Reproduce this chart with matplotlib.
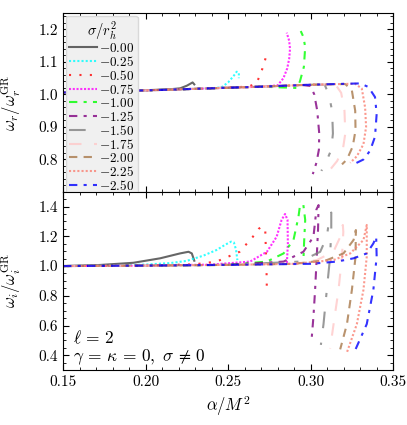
import numpy as np
import matplotlib
matplotlib.use("Agg")
import matplotlib.pyplot as plt
from matplotlib.ticker import MultipleLocator

plt.rcParams['font.family'] = 'serif'
plt.rcParams['font.serif'] = ['cmr10', 'DejaVu Serif']
plt.rcParams['mathtext.fontset'] = 'cm'
plt.rcParams['axes.formatter.use_mathtext'] = True
plt.rcParams['font.size'] = 11

sigmas = ['-0.00', '-0.25', '-0.50', '-0.75', '-1.00', '-1.25',
          '-1.50', '-1.75', '-2.00', '-2.25', '-2.50']

# top panel: omega_r / omega_r^GR
ar_000 = [0.15, 0.18, 0.20, 0.215, 0.221, 0.225, 0.2285, 0.2295]
wr_000 = [1.006, 1.010, 1.013, 1.016, 1.019, 1.027, 1.037, 1.031]
ar_025 = [0.15, 0.18, 0.21, 0.24, 0.246, 0.25, 0.2535, 0.2552, 0.2565, 0.2565]
wr_025 = [1.006, 1.010, 1.014, 1.019, 1.022, 1.037, 1.058, 1.070, 1.066, 1.05]
ar_050 = [0.15, 0.18, 0.21, 0.24, 0.262, 0.267, 0.2694, 0.2715, 0.2735]
wr_050 = [1.006, 1.010, 1.014, 1.019, 1.024, 1.033, 1.06, 1.09, 1.126]
ar_075 = [0.15, 0.18, 0.21, 0.24, 0.27, 0.28, 0.2835, 0.2858, 0.287, 0.2875, 0.287, 0.2855]
wr_075 = [1.006, 1.010, 1.014, 1.019, 1.024, 1.028, 1.05, 1.08, 1.11, 1.14, 1.165, 1.19]
ar_100 = [0.15, 0.18, 0.21, 0.24, 0.27, 0.2916, 0.2935, 0.2959, 0.2967, 0.2956, 0.294]
wr_100 = [1.006, 1.010, 1.014, 1.019, 1.024, 1.020, 1.04, 1.085, 1.146, 1.177, 1.195]
ar_125 = [0.15, 0.18, 0.21, 0.24, 0.27, 0.295, 0.300, 0.3022, 0.3040, 0.3052, 0.3050, 0.3035, 0.3013]
wr_125 = [1.006, 1.010, 1.014, 1.019, 1.024, 1.029, 1.026, 1.0, 0.95, 0.88, 0.83, 0.79, 0.755]
ar_150 = [0.15, 0.18, 0.21, 0.24, 0.27, 0.300, 0.3085, 0.3110, 0.3130, 0.3135, 0.3125, 0.310, 0.3065]
wr_150 = [1.006, 1.010, 1.014, 1.019, 1.024, 1.030, 1.030, 1.0, 0.95, 0.88, 0.83, 0.80, 0.765]
ar_175 = [0.15, 0.18, 0.21, 0.24, 0.27, 0.300, 0.315, 0.3185, 0.3205, 0.321, 0.3195, 0.316, 0.312]
wr_175 = [1.006, 1.010, 1.014, 1.019, 1.024, 1.030, 1.031, 1.005, 0.95, 0.88, 0.83, 0.795, 0.77]
ar_200 = [0.15, 0.18, 0.21, 0.24, 0.27, 0.300, 0.321, 0.325, 0.327, 0.3272, 0.3255, 0.322, 0.319]
wr_200 = [1.006, 1.010, 1.014, 1.019, 1.024, 1.030, 1.032, 1.012, 0.95, 0.89, 0.84, 0.80, 0.785]
ar_225 = [0.15, 0.18, 0.21, 0.24, 0.27, 0.300, 0.327, 0.331, 0.333, 0.3336, 0.332, 0.328, 0.324]
wr_225 = [1.006, 1.010, 1.014, 1.019, 1.024, 1.030, 1.033, 1.018, 0.96, 0.90, 0.847, 0.81, 0.79]
ar_250 = [0.15, 0.18, 0.21, 0.24, 0.27, 0.300, 0.330, 0.335, 0.339, 0.340, 0.339, 0.336, 0.332, 0.326]
wr_250 = [1.006, 1.010, 1.014, 1.019, 1.024, 1.030, 1.034, 1.023, 0.992, 0.94, 0.87, 0.827, 0.80, 0.785]

# bottom panel: omega_i / omega_i^GR
ai_000 = [0.15, 0.172, 0.1926, 0.2088, 0.2209, 0.226, 0.228, 0.2295]
wi_000 = [1.0, 1.007, 1.022, 1.052, 1.085, 1.096, 1.085, 1.036]
ai_025 = [0.15, 0.18, 0.20, 0.215, 0.225, 0.235, 0.243, 0.2485, 0.2518, 0.2535, 0.2548, 0.2556]
wi_025 = [1.0, 1.003, 1.01, 1.02, 1.035, 1.07, 1.108, 1.145, 1.164, 1.158, 1.11, 1.04]
ai_050 = [0.15, 0.20, 0.23, 0.243, 0.257, 0.265, 0.2685, 0.2705, 0.2725, 0.273, 0.2733, 0.2735]
wi_050 = [1.0, 1.003, 1.012, 1.03, 1.096, 1.197, 1.25, 1.265, 1.242, 1.063, 0.95, 0.816]
ai_075 = [0.15, 0.20, 0.24, 0.2633, 0.2735, 0.2794, 0.2824, 0.2845, 0.286, 0.2862, 0.2856]
wi_075 = [1.0, 1.003, 1.01, 1.03, 1.096, 1.197, 1.31, 1.35, 1.31, 1.15, 1.02]
ai_100 = [0.15, 0.20, 0.25, 0.2735, 0.2836, 0.2896, 0.2926, 0.2936, 0.2956, 0.2967, 0.296, 0.2956]
wi_100 = [1.0, 1.003, 1.008, 1.03, 1.085, 1.175, 1.33, 1.41, 1.41, 1.31, 1.15, 1.03]
ai_125 = [0.15, 0.20, 0.25, 0.2836, 0.2956, 0.3017, 0.3035, 0.3048, 0.3045, 0.3037, 0.3027, 0.3017, 0.3007]
wi_125 = [1.0, 1.003, 1.008, 1.03, 1.096, 1.197, 1.38, 1.41, 1.25, 1.063, 0.84, 0.66, 0.524]
ai_150 = [0.15, 0.20, 0.25, 0.2936, 0.3058, 0.3098, 0.3115, 0.3125, 0.3125, 0.3118, 0.3098, 0.3078, 0.3062]
wi_150 = [1.0, 1.003, 1.008, 1.03, 1.096, 1.197, 1.33, 1.36, 1.25, 1.063, 0.84, 0.61, 0.47]
ai_175 = [0.15, 0.20, 0.25, 0.29, 0.3037, 0.3138, 0.318, 0.3195, 0.3198, 0.319, 0.3169, 0.3139, 0.3118]
wi_175 = [1.0, 1.003, 1.008, 1.015, 1.04, 1.096, 1.197, 1.276, 1.23, 1.063, 0.84, 0.61, 0.446]
ai_200 = [0.15, 0.20, 0.25, 0.29, 0.3098, 0.3199, 0.326, 0.3274, 0.3272, 0.325, 0.322, 0.3179]
wi_200 = [1.0, 1.003, 1.008, 1.015, 1.04, 1.085, 1.175, 1.242, 1.063, 0.84, 0.61, 0.44]
ai_225 = [0.15, 0.20, 0.25, 0.29, 0.3138, 0.324, 0.332, 0.334, 0.334, 0.332, 0.328, 0.322]
wi_225 = [1.0, 1.003, 1.008, 1.015, 1.04, 1.085, 1.175, 1.276, 1.063, 0.84, 0.61, 0.42]
ai_250 = [0.15, 0.20, 0.25, 0.30, 0.3159, 0.326, 0.334, 0.338, 0.3397, 0.340, 0.338, 0.334, 0.326]
wi_250 = [1.0, 1.003, 1.008, 1.015, 1.03, 1.052, 1.085, 1.152, 1.197, 1.063, 0.84, 0.61, 0.41]

top = [(ar_000, wr_000), (ar_025, wr_025), (ar_050, wr_050), (ar_075, wr_075),
       (ar_100, wr_100), (ar_125, wr_125), (ar_150, wr_150), (ar_175, wr_175),
       (ar_200, wr_200), (ar_225, wr_225), (ar_250, wr_250)]
bot = [(ai_000, wi_000), (ai_025, wi_025), (ai_050, wi_050), (ai_075, wi_075),
       (ai_100, wi_100), (ai_125, wi_125), (ai_150, wi_150), (ai_175, wi_175),
       (ai_200, wi_200), (ai_225, wi_225), (ai_250, wi_250)]

colors = ['#404040', 'cyan', 'red', 'magenta', 'lime', 'purple',
          'gray', '#ffc8c8', '#a8784a', 'salmon', 'blue']
styles = ['-', (0, (1, 1)), (0, (1, 4)), (0, (1, 0.8)), (0, (4, 3, 1.5, 3)),
          (0, (4, 3, 1.5, 3)), (0, (8, 7, 2, 7)), (0, (6, 6)), (0, (4, 3)),
          (0, (1, 1)), (0, (4, 3, 1.5, 3))]

fig, (ax1, ax2) = plt.subplots(2, 1, figsize=(4.07, 4.25), dpi=100, sharex=True)
fig.subplots_adjust(left=0.155, right=0.966, top=0.969, bottom=0.129, hspace=0)

for k in range(len(sigmas)):
    ax1.plot(top[k][0], top[k][1], color=colors[k], ls=styles[k], lw=1.5,
             alpha=0.8, label=r'$%s$' % sigmas[k])
    ax2.plot(bot[k][0], bot[k][1], color=colors[k], ls=styles[k], lw=1.5, alpha=0.8)

ax1.set_xlim(0.15, 0.35)
ax1.set_ylim(0.701, 1.25)
ax2.set_ylim(0.30, 1.50)
ax1.xaxis.set_major_locator(MultipleLocator(0.05))
ax1.xaxis.set_minor_locator(MultipleLocator(0.01))
ax1.yaxis.set_major_locator(MultipleLocator(0.1))
ax1.yaxis.set_minor_locator(MultipleLocator(0.02))
ax2.yaxis.set_major_locator(MultipleLocator(0.2))
ax2.yaxis.set_minor_locator(MultipleLocator(0.05))
for ax in (ax1, ax2):
    ax.tick_params(which='both', direction='in', top=True, right=True)
    ax.tick_params(which='major', length=4)
    ax.tick_params(which='minor', length=2)
ax2.xaxis.set_major_formatter(plt.FuncFormatter(lambda v, p: '%.2f' % v))
ax1.yaxis.set_major_formatter(plt.FuncFormatter(lambda v, p: '%.1f' % v))
ax2.yaxis.set_major_formatter(plt.FuncFormatter(lambda v, p: '%.1f' % v))

ax1.set_ylabel(r'$\omega_r/\omega_r^{\rm GR}$', fontsize=12)
ax2.set_ylabel(r'$\omega_i/\omega_i^{\rm GR}$', fontsize=12)
ax2.set_xlabel(r'$\alpha/M^2$', fontsize=12)
ax1.yaxis.set_label_coords(-0.12, 0.5)
ax2.yaxis.set_label_coords(-0.12, 0.5)

leg = ax1.legend(title=r'$\sigma/r_h^2$', loc='upper left', fontsize=9.5,
                 title_fontsize=10.5, labelspacing=0.0, borderpad=0.25,
                 handlelength=2.1, handletextpad=0.2, borderaxespad=0.2,
                 frameon=True, facecolor='0.94', edgecolor='0.85', framealpha=1)

ax2.text(0.03, 0.151, r'$\ell\,=\,2$', transform=ax2.transAxes,
         fontsize=12.5, ha='left', va='baseline')
ax2.text(0.03, 0.050, r'$\gamma\,=\,\kappa\,=\,0,\ \sigma\,\neq\,0$',
         transform=ax2.transAxes, fontsize=12.5, ha='left', va='baseline')

fig.savefig('out.png', dpi=100)
